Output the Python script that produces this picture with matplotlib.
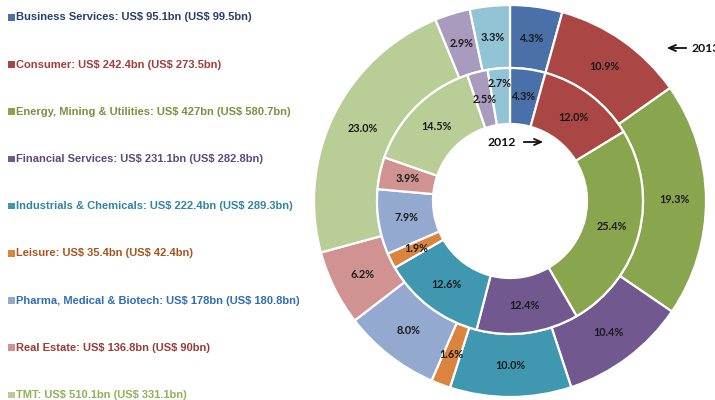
import matplotlib
matplotlib.use('Agg')
import matplotlib.pyplot as plt
from matplotlib.patches import Rectangle

# ---- data ----
sectors = ["Business Services", "Consumer", "Energy, Mining & Utilities",
           "Financial Services", "Industrials & Chemicals", "Leisure",
           "Pharma, Medical & Biotech", "Real Estate", "TMT"]
value_2013 = ["95.1", "242.4", "427", "231.1", "222.4", "35.4", "178", "136.8", "510.1"]
value_2012 = ["99.5", "273.5", "580.7", "282.8", "289.3", "42.4", "180.8", "90", "331.1"]

# ring shares (%), clockwise from top; last two sectors not in the visible legend
share_2013 = [4.3, 10.9, 19.3, 10.4, 10.0, 1.6, 8.0, 6.2, 23.0, 2.9, 3.3]
share_2012 = [4.3, 12.0, 25.4, 12.4, 12.6, 1.9, 7.9, 3.9, 14.5, 2.5, 2.7]

wedge_colors = ["#4A70AA", "#AA4643", "#89A54E", "#71588F", "#3F98AF",
                "#DB843D", "#93A9CF", "#D19392", "#B9CD96", "#A99BBD", "#93C4D6"]
text_colors = ["#26406E", "#A33C3A", "#77933C", "#5F497A", "#31859C",
               "#A8561E", "#2F6DB5", "#9B3B39", "#8EB357"]

W, H = 715, 400
fig = plt.figure(figsize=(W / 100, H / 100), dpi=100)
ax = fig.add_axes([0, 0, 1, 1])

cx, cy = 510, 400 - 201
R_out, R_mid, R_in = 196, 133, 77
lab_font = dict(family=["Lato", "DejaVu Sans"], fontsize=7.8, fontweight="bold", color="#1a1a1a")

# outer ring (2013)
_, t_out = ax.pie(share_2013, radius=R_out, center=(cx, cy), startangle=90,
                  counterclock=False, colors=wedge_colors,
                  labels=[f"{v:.1f}%" for v in share_2013],
                  labeldistance=(R_out + R_mid) / 2 / R_out,
                  wedgeprops=dict(width=R_out - R_mid, edgecolor="white", linewidth=1.6),
                  textprops=lab_font)
# inner ring (2012)
_, t_in = ax.pie(share_2012, radius=R_mid, center=(cx, cy), startangle=90,
                 counterclock=False, colors=wedge_colors,
                 labels=[f"{v:.1f}%" for v in share_2012],
                 labeldistance=(R_mid + R_in) / 2 / R_mid,
                 wedgeprops=dict(width=R_mid - R_in, edgecolor="white", linewidth=1.6),
                 textprops=lab_font)
for t in list(t_out) + list(t_in):
    t.set_ha("center")
    t.set_va("center")
# push the last (narrow) inner label outward, as in the original
x, y = t_in[-1].get_position()
k = 118 / ((R_mid + R_in) / 2)
t_in[-1].set_position((cx + (x - cx) * k, cy + (y - cy) * k))

# ring annotations
ax.text(488, 400 - 142, "2012", ha="left", va="center", family=["Lato", "DejaVu Sans"],
        fontsize=8.8, fontweight="bold", color="#111111")
ax.annotate("", xy=(546, 400 - 142), xytext=(521, 400 - 142),
            arrowprops=dict(arrowstyle="->,head_length=0.5,head_width=0.22", lw=1.3, color="#111111"))
ax.text(692, 400 - 48, "2013", ha="left", va="center", family=["Lato", "DejaVu Sans"],
        fontsize=8.8, fontweight="bold", color="#111111")
ax.annotate("", xy=(664, 400 - 48), xytext=(689, 400 - 48),
            arrowprops=dict(arrowstyle="->,head_length=0.5,head_width=0.22", lw=1.3, color="#111111"))

# legend (coloured text)
y0, dy = 17.5, 47.2
for i, name in enumerate(sectors):
    y = 400 - (y0 + i * dy)
    ax.add_patch(Rectangle((8, y - 3), 6.5, 6.5, color=wedge_colors[i], lw=0))
    ax.text(16.5, y, f"{name}: US\\$ {value_2013[i]}bn (US\\$ {value_2012[i]}bn)",
            ha="left", va="center", family=["Liberation Sans", "DejaVu Sans"],
            fontsize=8.0, fontweight="bold", color=text_colors[i])

ax.set_xlim(0, W)
ax.set_ylim(0, H)
ax.set_aspect("equal")
ax.axis("off")
fig.savefig("out.png", dpi=100)
